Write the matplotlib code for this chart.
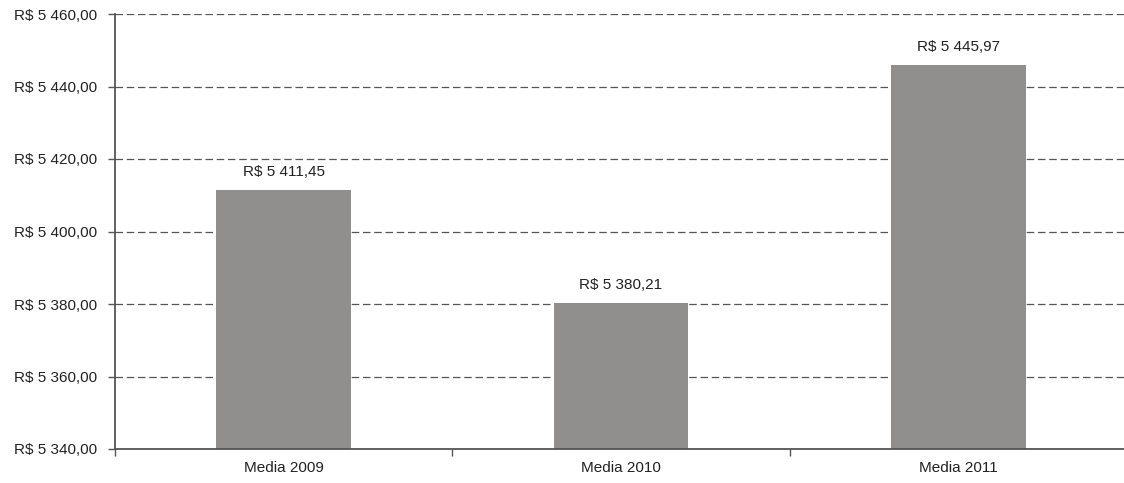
import matplotlib.pyplot as plt
from matplotlib.ticker import FuncFormatter, FixedLocator

plt.rcParams['font.family'] = ['Liberation Sans', 'DejaVu Sans']

categorias = ["Media 2009", "Media 2010", "Media 2011"]
medias = [5411.45, 5380.21, 5445.97]
y_ticks = [5340, 5360, 5380, 5400, 5420, 5440, 5460]


def reais(v, casas=2):
    # formato brasileiro: espaço como milhar, vírgula decimal
    s = f"{v:,.{casas}f}"
    s = s.replace(",", " ").replace(".", ",")
    return f"R$ {s}"


cor_texto = "#222222"
cor_linha = "#555555"
tam = 11

fig = plt.figure(figsize=(11.24, 4.83), dpi=100)
ax = fig.add_axes([115 / 1124, 34 / 483, 1012 / 1124, 435 / 483])

pos = list(range(len(categorias)))
bars = ax.bar(pos, [m - y_ticks[0] for m in medias], bottom=y_ticks[0],
              width=0.4, color="#908f8d", zorder=3)

for b, m in zip(bars, medias):
    ax.annotate(reais(m), (b.get_x() + b.get_width() / 2, m),
                xytext=(0, 8), textcoords="offset points",
                ha="center", va="bottom", fontsize=tam, color=cor_texto)

ax.set_xlim(-0.5, 2.5)
ax.set_ylim(y_ticks[0], y_ticks[-1])
ax.set_yticks(y_ticks)
ax.yaxis.set_major_formatter(FuncFormatter(lambda v, p: reais(v)))

# marcas nas divisões entre categorias, rótulos no centro
ax.xaxis.set_major_locator(FixedLocator([-0.5, 0.5, 1.5, 2.5]))
ax.xaxis.set_major_formatter(FuncFormatter(lambda v, p: ""))
ax.xaxis.set_minor_locator(FixedLocator(pos))
ax.set_xticklabels(categorias, minor=True)
ax.tick_params(axis="x", which="minor", length=0, pad=9,
               labelsize=tam, labelcolor=cor_texto)
ax.tick_params(axis="x", which="major", length=5, width=1, color=cor_linha)
ax.tick_params(axis="y", length=5, width=1, color=cor_linha, pad=8,
               labelsize=tam, labelcolor=cor_texto)

ax.grid(axis="y", linestyle=(0, (6, 3)), color=cor_linha, linewidth=0.9, zorder=1)
for lado in ["top", "right"]:
    ax.spines[lado].set_visible(False)
for lado in ["left", "bottom"]:
    ax.spines[lado].set_color(cor_linha)
    ax.spines[lado].set_linewidth(1.3)
    ax.spines[lado].set_zorder(4)

plt.savefig("out.png", dpi=100)
